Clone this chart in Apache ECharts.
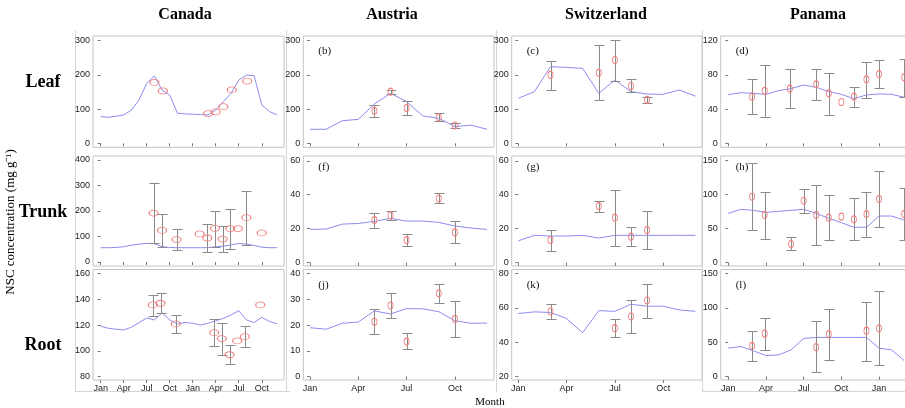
<!DOCTYPE html>
<html><head><meta charset="utf-8">
<script src="https://cdn.jsdelivr.net/npm/echarts@6/dist/echarts.min.js"></script>
<style>html,body{margin:0;padding:0;background:#fff}#c{width:905px;height:408px}</style>
</head><body><div id="c"></div>
<script>
// ---------- labels ----------
const countries = ['Canada', 'Austria', 'Switzerland', 'Panama'];
const tissues = ['Leaf', 'Trunk', 'Root'];
const monthNames = ['Jan', 'Apr', 'Jul', 'Oct'];
const panelLetters = [['', '(b)', '(c)', '(d)'], ['', '(f)', '(g)', '(h)'], ['', '(j)', '(k)', '(l)']];

// ---------- modelled NSC (monthly, starting Jan) ----------
const canadaLeafLine  = [78, 76, 79, 83, 97, 127, 175, 197, 156, 141, 88, 86, 85, 84, 83, 97, 122, 146, 185, 199, 198, 112, 93, 83];
const canadaTrunkLine = [56, 56, 57, 60, 66, 70, 73, 72, 60, 57, 56, 56, 56, 56, 56, 60, 62, 67, 73, 70, 65, 58, 56, 56];
const canadaRootLine  = [119.2, 117.5, 116.8, 116.2, 118.3, 121.9, 125.5, 124, 129.5, 124, 120.9, 122, 121.4, 120, 121.4, 123.4, 125.2, 127.8, 131.2, 124, 121.9, 126, 122.9, 120.9];
const austriaLeafLine  = [41, 41, 66, 70, 115, 146, 122, 80, 73, 49, 53, 41];
const austriaTrunkLine = [19.6, 19.8, 22.7, 23.1, 24.3, 26.1, 24.5, 24.5, 23.7, 21.6, 20.4, 19.6];
const austriaRootLine  = [19, 18.4, 20.7, 21.2, 25.5, 24.3, 26.4, 26.3, 25.2, 21.7, 20.7, 20.8];
const swissLeafLine  = [131.5, 151, 224, 222, 219, 146, 185, 151, 144, 143, 156, 138];
const swissTrunkLine = [12.9, 16.1, 15.7, 15.7, 16.1, 14.5, 16.1, 16.1, 16.1, 16.1, 16.1, 16.1];
const swissRootLine  = [56.7, 57.7, 57.3, 53.8, 45.6, 58.4, 58, 62.1, 61, 61, 58.8, 58];
const panamaLeafLine  = [56.9, 59.2, 58.4, 57.3, 61.6, 63.9, 68.2, 65.5, 60.4, 57.3, 52.2, 56.5, 57.7, 57.3, 53.8];
const panamaTrunkLine = [72.5, 78.4, 77, 74, 75.5, 77, 78.4, 72.5, 65.2, 58.8, 52, 52, 68.6, 68.6, 62.7];
const panamaRootLine  = [41.5, 43.9, 37.6, 30.7, 31.7, 39, 55.6, 57.1, 57.1, 57.1, 57.1, 57.1, 41.5, 39, 23.4];

// ---------- observations [month, mean, low, high] ----------
const canadaLeafObs = [[7, 178, null, null], [8.1, 153, null, null], [14, 87, null, null], [15, 92, null, null], [16, 107, null, null], [17.1, 156, null, null], [19.1, 182, null, null]];
const canadaTrunkObs = [[6.9, 192, 73, 311], [8, 124, 60, 188], [9.9, 88, 47, 128], [12.9, 110, null, null], [13.9, 94, 39, 149], [14.9, 132, 60, 199], [15.9, 90, 39, 141], [16.9, 131, 52, 207], [17.9, 131, null, null], [19, 174, 65, 280], [21, 114, null, null]];
const canadaRootObs = [[6.8, 135.6, 127, 143.6], [7.8, 136.9, 129.1, 144.7], [9.8, 120.9, 114.1, 127.6], [14.8, 114.1, 103.8, 124.5], [15.8, 109.5, 96.5, 121.9], [16.8, 97, 89.8, 104.3], [17.8, 107.7, null, null], [18.8, 111, 102.7, 119.3], [20.8, 135.6, null, null]];
const austriaLeafObs = [[4, 95, 78, 112], [5, 151, 143, 156], [6, 103, 83, 125], [8, 76, 66, 88], [9, 52, 46, 58]];
const austriaTrunkObs = [[4, 25.1, 20.2, 29], [5, 27.8, 24.9, 30.4], [6, 13.3, 9.8, 16.7], [8, 37.8, 34.9, 40.8], [9, 17.8, 11.4, 24.3]];
const austriaRootObs = [[4, 21.3, 16.4, 26.1], [5, 27.6, 22.9, 32.3], [6, 13.6, 10.6, 16.8], [8, 32.3, 28.5, 36], [9, 22.4, 15.5, 29.2]];
const swissLeafObs = [[2, 200, 156, 242], [5, 206, 127, 286], [6, 243.5, 183, 302], [7, 167.5, 150, 187], [8, 127, 119, 134.5]];
const swissTrunkObs = [[2, 13.3, 7.1, 19], [5, 33.3, 29.8, 36.5], [6, 26.5, 10, 42.7], [7, 15.3, 9.8, 21], [8, 19.2, 8, 30.4]];
const swissRootObs = [[2, 57.9, 53.4, 62.1], [6, 48.2, 42.9, 53.4], [7, 55, 45.2, 64.7], [8, 64.3, 54.4, 73.6]];
const panamaLeafObs = [[1.9, 54.5, 34.3, 74.8], [2.9, 61.2, 30.4, 91.2], [4.9, 63.9, 40.9, 86.5], [7, 69, 50.6, 86.5], [8, 58.4, 33.1, 81.8], [9, 48.3, null, null], [10, 54.5, 42, 65.5], [11, 74.8, 53.4, 95.4], [12, 81, 64.7, 97.4], [14, 77.1, 54.5, 98.6]];
const panamaTrunkObs = [[1.9, 97, 48, 146], [2.9, 70, 35.3, 104.4], [5, 27.4, 18.6, 37.2], [6, 91.1, 73.5, 108.8], [7, 70, 26, 113.7], [8, 66.2, 32.8, 99.5], [9, 67.6, null, null], [10, 63.7, 32.8, 94.6], [11, 71.5, 37.7, 104.4], [12, 93.6, 52, 135.2], [14, 71.5, 32.8, 109.3]];
const panamaRootObs = [[1.9, 44.9, 23.4, 65.9], [2.9, 62.5, 39, 84.9], [7, 42.9, 6.8, 80.5], [8, 62, 24.4, 98.6], [11, 66.9, 23.4, 108.8], [12, 70.3, 16.6, 124]];

// ---------- tick values ----------
const yTicks = [
  [[0, 100, 200, 300], [0, 100, 200, 300], [0, 100, 200, 300], [0, 40, 80, 120]],
  [[0, 100, 200, 300, 400], [0, 20, 40, 60], [0, 20, 40, 60], [0, 50, 100, 150]],
  [[80, 100, 120, 140, 160], [0, 10, 20, 30, 40], [20, 40, 60, 80], [0, 50, 100, 150]]
];
const xTicks = [[0, 3, 6, 9, 12, 15, 18, 21], [0, 3, 6, 9], [0, 3, 6, 9], [0, 3, 6, 9, 12]];

// ---------- layout ----------
const colBox = [[93, 191], [303.3, 190.7], [511.7, 190.3], [720.7, 191]];
const rowBox = [[36, 111.3], [156, 110], [269.5, 110.5]];
const xRange = [[-1.0, 23.9], [-0.42, 11.43], [-0.41, 11.41], [-0.6, 14.6]];
const yRange = [
  [[-11.7, 313.7], [-11.7, 313.7], [-11.7, 313.7], [-4.7, 125.5]],
  [[-15.7, 415.7], [-1.94, 62.8], [-1.94, 62.8], [-4.9, 156.9]],
  [[77.4, 163.1], [-1.28, 41.55], [18.1, 82.3], [-4.8, 155.8]]
];
const letterDy = [16.7, 13, 17.5];
const frameX = [75.5, 286.5, 496.5, 702.5];

const lines = [
  [canadaLeafLine, austriaLeafLine, swissLeafLine, panamaLeafLine],
  [canadaTrunkLine, austriaTrunkLine, swissTrunkLine, panamaTrunkLine],
  [canadaRootLine, austriaRootLine, swissRootLine, panamaRootLine]
];
const obs = [
  [canadaLeafObs, austriaLeafObs, swissLeafObs, panamaLeafObs],
  [canadaTrunkObs, austriaTrunkObs, swissTrunkObs, panamaTrunkObs],
  [canadaRootObs, austriaRootObs, swissRootObs, panamaRootObs]
];

const tickFont = '"Liberation Sans Narrow", "Liberation Sans", Arial, sans-serif';
const serif = '"Liberation Serif", "Times New Roman", serif';

const grid = [], xAxis = [], yAxis = [], series = [], graphic = [];
let gi = 0;
for (let r = 0; r < 3; r++) {
  for (let c = 0; c < 4; c++) {
    grid.push({
      left: colBox[c][0], top: rowBox[r][0], width: colBox[c][1], height: rowBox[r][1],
      show: true, borderColor: '#c4c4c4', borderWidth: 1, backgroundColor: 'transparent',
      containLabel: false, outerBoundsMode: 'none'
    });
    xAxis.push({
      type: 'value', gridIndex: gi, min: xRange[c][0], max: xRange[c][1],
      axisLine: { show: false }, splitLine: { show: false },
      axisTick: { show: true, length: 3, customValues: xTicks[c], lineStyle: { color: '#777' } },
      axisLabel: {
        show: r === 2, customValues: xTicks[c], margin: 4, fontSize: 9, color: '#222', fontFamily: tickFont,
        formatter: v => monthNames[Math.round(v / 3) % 4]
      }
    });
    yAxis.push({
      type: 'value', gridIndex: gi, min: yRange[r][c][0], max: yRange[r][c][1],
      axisLine: { show: false }, splitLine: { show: false },
      axisTick: { show: true, length: 3, customValues: yTicks[r][c], lineStyle: { color: '#777' } },
      axisLabel: { customValues: yTicks[r][c], margin: 3, fontSize: 9, color: '#222', fontFamily: tickFont }
    });
    series.push({
      type: 'line', xAxisIndex: gi, yAxisIndex: gi, symbol: 'none', silent: true,
      lineStyle: { color: '#8c8cf0', width: 1 },
      data: lines[r][c].map((v, i) => [i, v]), z: 2
    });
    series.push({
      type: 'custom', xAxisIndex: gi, yAxisIndex: gi, silent: true, z: 3,
      data: obs[r][c].filter(d => d[2] !== null).map(d => [d[0], d[2], d[3]]),
      encode: { x: 0, y: [1, 2] },
      renderItem: (params, api) => {
        const x = api.value(0);
        const pLo = api.coord([x, api.value(1)]);
        const pHi = api.coord([x, api.value(2)]);
        const w = 5;
        const st = { stroke: '#8a8a8a', lineWidth: 1 };
        const X = Math.round(pLo[0]) + 0.5;
        const yl = Math.round(pLo[1]) + 0.5, yh = Math.round(pHi[1]) + 0.5;
        return { type: 'group', children: [
          { type: 'line', shape: { x1: X, y1: yl, x2: X, y2: yh }, style: st },
          { type: 'line', shape: { x1: X - w, y1: yl, x2: X + w, y2: yl }, style: st },
          { type: 'line', shape: { x1: X - w, y1: yh, x2: X + w, y2: yh }, style: st }
        ]};
      }
    });
    series.push({
      type: 'scatter', xAxisIndex: gi, yAxisIndex: gi, silent: true, z: 4,
      symbol: 'circle', symbolSize: c === 0 ? [9, 6] : [5, 7],
      itemStyle: { color: 'rgba(255,255,255,0)', borderColor: '#f07e7e', borderWidth: 1, opacity: 1 },
      data: obs[r][c].map(d => [d[0], d[1]])
    });
    if (panelLetters[r][c]) {
      graphic.push({ type: 'text', left: colBox[c][0] + 15, top: rowBox[r][0] + letterDy[r] - 7,
        style: { text: panelLetters[r][c], font: '11px ' + serif, fill: '#111' } });
    }
    gi++;
  }
}

// light panel frames
frameX.forEach(x => graphic.push({ type: 'line', silent: true, z: -1,
  shape: { x1: x, y1: 30, x2: x, y2: 392 }, style: { stroke: '#d6d6d6', lineWidth: 1 } }));
graphic.push({ type: 'line', silent: true, z: -1, shape: { x1: 75.5, y1: 391.5, x2: 290, y2: 391.5 }, style: { stroke: '#d6d6d6', lineWidth: 1 } });
graphic.push({ type: 'line', silent: true, z: -1, shape: { x1: 702.5, y1: 391.5, x2: 905, y2: 391.5 }, style: { stroke: '#d6d6d6', lineWidth: 1 } });

const titleX = [185, 392, 606, 818];
countries.forEach((t, c) => graphic.push({ type: 'text', x: titleX[c], y: 15,
  style: { text: t, font: 'bold 16px ' + serif, fill: '#000', textAlign: 'center', textVerticalAlign: 'middle' } }));
const rowY = [82, 212, 345];
tissues.forEach((t, r) => graphic.push({ type: 'text', x: 43, y: rowY[r],
  style: { text: t, font: 'bold 18px ' + serif, fill: '#000', textAlign: 'center', textVerticalAlign: 'middle' } }));
graphic.push({ type: 'text', x: 11, y: 222, rotation: Math.PI / 2,
  style: { text: 'NSC concentration (mg g\u207B\u00B9)', font: '13px ' + serif, fill: '#000', textAlign: 'center', textVerticalAlign: 'middle' } });
graphic.push({ type: 'text', x: 490, y: 402,
  style: { text: 'Month', font: '11px ' + serif, fill: '#000', textAlign: 'center', textVerticalAlign: 'middle' } });

const chart = echarts.init(document.getElementById('c'), null, { renderer: 'canvas' });
chart.setOption({ animation: false, backgroundColor: '#fff', grid, xAxis, yAxis, series, graphic });
</script></body></html>
